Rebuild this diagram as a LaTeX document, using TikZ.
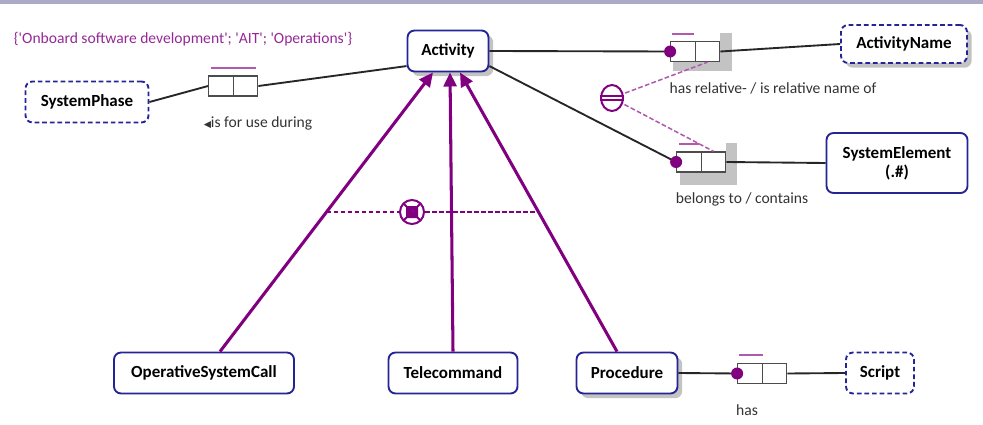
\documentclass[tikz,border=0pt]{standalone}
\usepackage{fontspec}
\setmainfont{Carlito}
\newfontfamily\symfont{DejaVu Sans}
\usetikzlibrary{arrows.meta,calc,shadows,shapes.geometric}

\definecolor{ormblue}{RGB}{36,36,150}
\definecolor{ormpurple}{RGB}{128,0,128}
\definecolor{ormlilac}{RGB}{175,90,175}
\definecolor{ormgray}{RGB}{195,195,195}
\definecolor{ormbar}{RGB}{171,171,200}
\definecolor{ormtext}{RGB}{150,40,150}

\tikzset{
  entity/.style={draw=ormblue, line width=1.6pt, rounded corners=6pt, fill=white,
    align=center, font=\fontsize{14.5}{16}\selectfont\bfseries, inner sep=0pt},
  value/.style={entity, dash pattern=on 4pt off 2.5pt},
  shady/.style={drop shadow={shadow xshift=4pt, shadow yshift=-4pt, fill=ormgray, opacity=1}},
  role/.style={draw=black!70, line width=1.1pt, fill=white, minimum width=0.735cm,
    minimum height=0.6cm, inner sep=0pt},
  link/.style={line width=1.6pt, black!85},
  subtype/.style={line width=2.6pt, ormpurple, -{Triangle[length=12pt,width=11pt]}},
  uniq/.style={line width=1.6pt, ormlilac},
  dot/.style={circle, fill=ormpurple, inner sep=0pt, minimum size=0.36cm},
  lbl/.style={font=\fontsize{13.3}{15}\selectfont, text=black!80},
}

\begin{document}
\begin{tikzpicture}[x=0.03cm,y=-0.03cm]
  \useasboundingbox (0,0) rectangle (983,425);
  \fill[ormbar] (0,0) rectangle (983,4);

  % object types
  \node[entity, shady, minimum width=2.43cm, minimum height=1.23cm] (act) at (448,51) {Activity};
  \node[value, minimum width=3.69cm, minimum height=1.23cm] (sysphase) at (87,102) {SystemPhase};
  \node[value, shady, minimum width=3.78cm, minimum height=1.14cm] (actname) at (904,44) {ActivityName};
  \node[entity, minimum width=4.23cm, minimum height=1.80cm] (syselem) at (897,163) {SystemElement\\(.\#)};
  \node[entity, minimum width=5.40cm, minimum height=1.23cm] (oscall) at (204,373) {OperativeSystemCall};
  \node[entity, minimum width=3.87cm, minimum height=1.23cm] (tc) at (453,373) {Telecommand};
  \node[entity, shady, minimum width=3.03cm, minimum height=1.23cm] (proc) at (627,373) {Procedure};
  \node[value, minimum width=2.04cm, minimum height=1.23cm] (script) at (880,373) {Script};

  % role boxes
  \fill[ormgray] (720,33) rectangle (732,71);
  \fill[ormgray] (673,62) rectangle (732,71);
  \fill[ormgray] (726,143) rectangle (737,185);
  \fill[ormgray] (680,172) rectangle (737,185);
  \node[role] (r1a) at (221,86) {};
  \node[role] (r1b) at (245.5,86) {};
  \node[role] (r2a) at (683,51.5) {};
  \node[role] (r2b) at (707.5,51.5) {};
  \node[role] (r3a) at (689,162) {};
  \node[role] (r3b) at (713.5,162) {};
  \node[role] (r4a) at (750,373.5) {};
  \node[role] (r4b) at (774.5,373.5) {};

  % fact type lines
  \draw[link] (sysphase.east) -- (r1a.west);
  \draw[link] (r1b.east) -- (act.200);
  \draw[link] (act.east) -- (r2a.west);
  \draw[link] (r2b.east) -- (actname.west);
  \draw[link] (act.-20) -- (r3a.west);
  \draw[link] (r3b.east) -- (syselem.west);
  \draw[link] (proc.east) -- (r4a.west);
  \draw[link] (r4b.east) -- (script.west);

  % mandatory dots
  \node[dot] (m2) at (r2a.west) {};
  \node[dot] (m3) at (r3a.west) {};
  \node[dot] (m4) at (r4a.west) {};

  % uniqueness bars
  \draw[uniq] ($(r1a.north west)+(3,-7)$) -- ($(r1b.north east)+(-2,-7)$);
  \draw[uniq] ($(r2a.north west)+(2,-7)$) -- ($(r2a.north east)+(-2,-7)$);
  \draw[uniq] ($(r3a.north west)+(3,-7)$) -- ($(r3a.north east)+(-3,-7)$);
  \draw[uniq] ($(r4a.north west)+(2,-8)$) -- ($(r4a.north east)+(0,-8)$);

  % subtypes
  \draw[subtype] ($(oscall.north)+(16,0)$) -- coordinate[pos=.5] (xl) ($(act.south)+(-15,0)$);
  \draw[subtype] (tc.north) -- ($(act.south)+(2,0)$);
  \draw[subtype] ($(proc.north)+(-10,0)$) -- coordinate[pos=.5] (xr) ($(act.south)+(12,0)$);

  % exclusion constraint
  \draw[ormpurple, line width=1.3pt, dash pattern=on 4pt off 2pt] (xl) -- (xr);
  \node[circle, draw=ormpurple, line width=1.7pt, fill=white, minimum size=0.72cm, inner sep=0pt] (ex) at (412,212) {};
  \draw[ormpurple, line width=1.6pt] ($(ex)+(-8,-8)$) -- ($(ex)+(8,8)$);
  \draw[ormpurple, line width=1.6pt] ($(ex)+(-8,8)$) -- ($(ex)+(8,-8)$);
  \fill[ormpurple, rounded corners=1pt] ($(ex)+(-6,-6)$) rectangle ($(ex)+(6,6)$);

  % equality constraint
  \draw[ormlilac, line width=1.3pt, dash pattern=on 4pt off 2pt] (612,98) -- (r2b.south);
  \draw[ormlilac, line width=1.3pt, dash pattern=on 4pt off 2pt] (612,98) -- (r3b.north);
  \node[ellipse, draw=ormpurple, line width=1.7pt, fill=white, minimum width=0.66cm, minimum height=0.78cm, inner sep=0pt] (eq) at (612,98) {};
  \draw[ormpurple, line width=1.2pt] ($(eq.west)+(0,-2)$) -- ($(eq.east)+(0,-2)$);
  \draw[ormpurple, line width=1.2pt] ($(eq.west)+(0,2)$) -- ($(eq.east)+(0,2)$);

  % readings
  \node[lbl] (l1) at (258,123) {{\symfont\fontsize{8}{9}\selectfont ◀}is for use during};
  \node[lbl] (l2) at (773,88) {has relative- / is relative name of};
  \node[lbl] (l3) at (742,199) {belongs to / contains};
  \node[lbl] (l4) at (747,410) {has};
  \node[font=\fontsize{13.3}{15}\selectfont, text=ormtext] (phases) at (183,39)
    {\{\textquotesingle Onboard software development\textquotesingle; \textquotesingle AIT\textquotesingle; \textquotesingle Operations\textquotesingle\}};
\end{tikzpicture}
\end{document}
